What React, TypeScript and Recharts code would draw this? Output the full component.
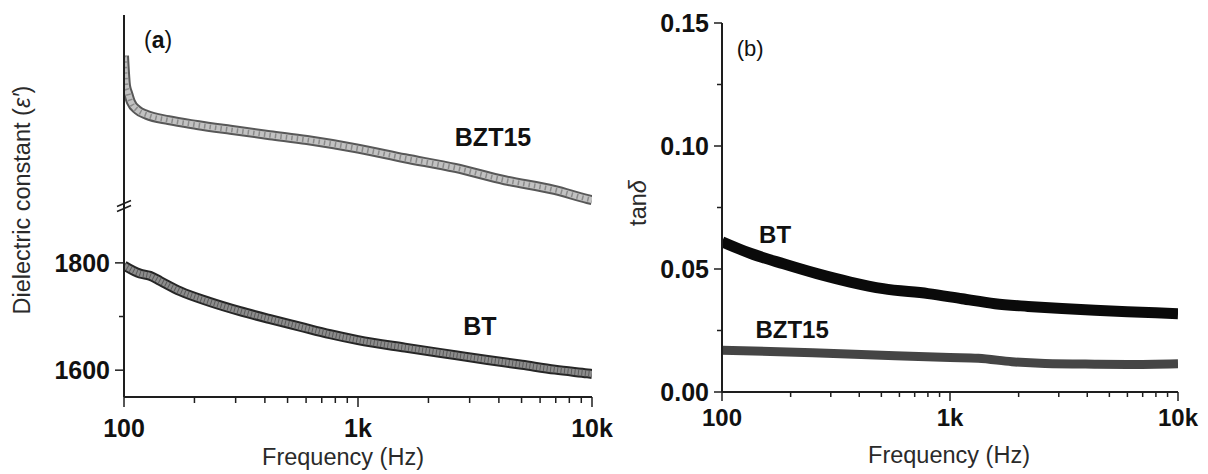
import React from 'react';
import { ComposedChart, Line, XAxis, YAxis, ReferenceDot, Label } from 'recharts';

const FONT = '"Liberation Sans", Arial, Helvetica, sans-serif';

// ---------- shared frequency axis ----------
const freqTicks = [100, 200, 300, 400, 500, 600, 700, 800, 900, 1000, 2000, 3000, 4000, 5000, 6000, 7000, 8000, 9000, 10000];
const freqMajor = [100, 1000, 10000];
const freqLabels = ['100', '1k', '10k'];

// ---------- panel (a): dielectric constant ----------
const epsTicks = [1600, 1700, 1800];
const epsLabeled = [1600, 1800];

const btFreqA = [100, 117, 129, 143, 174, 233, 313, 421, 565, 760, 1000, 1586, 2600, 3580, 5020, 6950, 9570, 10000];
const btEpsA = [1795, 1780, 1776, 1766, 1747, 1727, 1710, 1695, 1681, 1667, 1656, 1642, 1628, 1619, 1610, 1601, 1594, 1593];

// BZT15 lies on the upper (broken) segment of the axis
const bztFreqA = [100, 102, 104, 107, 114, 125, 155, 205, 285, 420, 605, 1000, 1585, 2600, 4240, 6900, 9570, 10000];
const bztEpsA = [2986, 2930, 2917, 2900, 2885, 2876, 2866, 2857, 2848, 2838, 2829, 2813, 2795, 2777, 2754, 2736, 2719, 2717];

// ---------- panel (b): tan delta ----------
const tanTicks = [0, 0.025, 0.05, 0.075, 0.1, 0.125, 0.15];
const tanLabeled = [0, 0.05, 0.1, 0.15];
const tanLabels = ['0.00', '0.05', '0.10', '0.15'];

const btFreqB = [100, 133, 186, 261, 365, 509, 802, 1130, 1576, 2198, 3098, 4320, 6000, 8000, 10000];
const btTanB = [0.0611, 0.0564, 0.0521, 0.0481, 0.0447, 0.042, 0.04, 0.0379, 0.0359, 0.0348, 0.0339, 0.0332, 0.0326, 0.0322, 0.0318];

const bztFreqB = [100, 250, 575, 1000, 1330, 1870, 2610, 4320, 6000, 10000];
const bztTanB = [0.017, 0.016, 0.0147, 0.014, 0.0137, 0.0123, 0.0116, 0.0113, 0.0112, 0.0115];

const rows = (fs: number[], vs: number[]) => fs.map((f, i) => ({ f, v: vs[i] }));
const btRowsA = rows(btFreqA, btEpsA);
const bztRowsA = rows(bztFreqA, bztEpsA);
const btRowsB = rows(btFreqB, btTanB);
const bztRowsB = rows(bztFreqB, bztTanB);

const AXIS = '#1e1e1e';

const makeXTick = (majorLen: number, minorLen: number, fontSize: number, dy: number) => (props: any) => {
  const { x, y, payload } = props;
  const idx = freqMajor.indexOf(payload.value);
  const major = idx >= 0;
  return (
    <g>
      <line x1={x} x2={x} y1={y} y2={y + (major ? majorLen : minorLen)} stroke={AXIS} strokeWidth={1.5} />
      {major && (
        <text x={x} y={y + dy} textAnchor="middle" dominantBaseline="central" fontSize={fontSize} fontWeight="bold" fontFamily={FONT} fill="#111">
          {freqLabels[idx]}
        </text>
      )}
    </g>
  );
};

const makeYTick = (labeled: number[], fmt: (v: number) => string, majorLen: number, minorLen: number, fontSize: number, gap: number) => (props: any) => {
  const { x, y, payload } = props;
  const major = labeled.indexOf(payload.value) >= 0;
  return (
    <g>
      <line x1={x - (major ? majorLen : minorLen)} x2={x} y1={y} y2={y} stroke={AXIS} strokeWidth={1.5} />
      {major && (
        <text x={x - majorLen - gap} y={y} textAnchor="end" dominantBaseline="central" fontSize={fontSize} fontWeight="bold" fontFamily={FONT} fill="#111">
          {fmt(payload.value)}
        </text>
      )}
    </g>
  );
};

const textShape = (label: string, size: number, weight: string) => (p: any) => (
  <text x={p.cx} y={p.cy} textAnchor="middle" dominantBaseline="central" fontSize={size} fontWeight={weight} fontFamily={FONT} fill="#111">
    {label}
  </text>
);

const panelLabel = (letter: string, size: number, weight: string) => (p: any) => (
  <text x={p.cx} y={p.cy} textAnchor="middle" dominantBaseline="central" fontSize={size} fontFamily={FONT} fill="#111">
    (<tspan fontWeight={weight}>{letter}</tspan>)
  </text>
);

const breakShape = (p: any) => (
  <g stroke={AXIS} strokeWidth={1.6}>
    <line x1={p.cx - 7} y1={p.cy + 1} x2={p.cx + 7} y2={p.cy - 5} />
    <line x1={p.cx - 7} y1={p.cy + 6} x2={p.cx + 7} y2={p.cy} />
  </g>
);

const titleStyle = { fontSize: 23.5, fontFamily: FONT, fill: '#2a2a2a' } as const;

function PanelA() {
  return (
    <ComposedChart width={620} height={474} margin={{ top: 15, right: 28, bottom: 0, left: 64 }}>
      <XAxis xAxisId="x" dataKey="f" type="number" scale="log" domain={[100, 10000]} ticks={freqTicks} interval={0}
        height={77} tickSize={0} tickMargin={0} tickLine={false} axisLine={{ stroke: AXIS, strokeWidth: 2 }}
        tick={makeXTick(10, 6, 25, 31)} allowDataOverflow>
        <Label content={() => <text x={343} y={457} textAnchor="middle" dominantBaseline="central" {...titleStyle}>Frequency (Hz)</text>} />
      </XAxis>
      <XAxis xAxisId="top" orientation="top" type="number" scale="log" domain={[100, 10000]} height={0} tick={false} tickLine={false}
        axisLine={{ stroke: AXIS, strokeWidth: 2 }} />
      <YAxis yAxisId="bt" type="number" domain={[1550, 2262]} ticks={epsTicks} interval={0} width={60} tickSize={0} tickMargin={0}
        tickLine={false} axisLine={{ stroke: AXIS, strokeWidth: 2 }} allowDataOverflow
        tick={makeYTick(epsLabeled, (v) => String(v), 9, 5, 25, 5)}>
        <Label content={() => (
          <text x={22} y={200} transform="rotate(-90 22 200)" textAnchor="middle" dominantBaseline="central" {...titleStyle}>
            Dielectric constant (<tspan fontStyle="italic">ε′</tspan>)
          </text>
        )} />
      </YAxis>
      <YAxis yAxisId="bzt" type="number" domain={[2350, 3062]} hide allowDataOverflow />
      <YAxis yAxisId="frame" orientation="right" type="number" domain={[0, 1]} width={0} tick={false} tickLine={false}
        axisLine={{ stroke: AXIS, strokeWidth: 2 }} />

      {/* BZT15: open-circle markers, drawn as a band with a dashed texture */}
      <Line xAxisId="x" yAxisId="bzt" data={bztRowsA} dataKey="v" type="monotone" stroke="#585858" strokeWidth={10} dot={false} isAnimationActive={false} />
      <Line xAxisId="x" yAxisId="bzt" data={bztRowsA} dataKey="v" type="monotone" stroke="#c2c2c2" strokeWidth={6} dot={false} isAnimationActive={false} />
      <Line xAxisId="x" yAxisId="bzt" data={bztRowsA} dataKey="v" type="monotone" stroke="#8a8a8a" strokeWidth={5} strokeDasharray="1.5 4" dot={false} isAnimationActive={false} />
      {/* BT: square markers */}
      <Line xAxisId="x" yAxisId="bt" data={btRowsA} dataKey="v" type="monotone" stroke="#262626" strokeWidth={10} dot={false} isAnimationActive={false} />
      <Line xAxisId="x" yAxisId="bt" data={btRowsA} dataKey="v" type="monotone" stroke="#8c8c8c" strokeWidth={6} dot={false} isAnimationActive={false} />
      <Line xAxisId="x" yAxisId="bt" data={btRowsA} dataKey="v" type="monotone" stroke="#5a5a5a" strokeWidth={6} strokeDasharray="1 2.5" dot={false} isAnimationActive={false} />

      <ReferenceDot xAxisId="x" yAxisId="bt" x={100} y={1907} ifOverflow="visible" shape={breakShape} />
      <ReferenceDot xAxisId="x" yAxisId="bt" x={140} y={2215} ifOverflow="visible" shape={panelLabel('a', 23, 'bold')} />
      <ReferenceDot xAxisId="x" yAxisId="bt" x={3776} y={2034} ifOverflow="visible" shape={textShape('BZT15', 25, 'bold')} />
      <ReferenceDot xAxisId="x" yAxisId="bt" x={3321} y={1682} ifOverflow="visible" shape={textShape('BT', 25, 'bold')} />
    </ComposedChart>
  );
}

function PanelB() {
  return (
    <ComposedChart width={608} height={474} margin={{ top: 23, right: 30, bottom: 0, left: 62 }}>
      <XAxis xAxisId="x" dataKey="f" type="number" scale="log" domain={[100, 10000]} ticks={freqTicks} interval={0}
        height={82} tickSize={0} tickMargin={0} tickLine={false} axisLine={{ stroke: AXIS, strokeWidth: 2 }}
        tick={makeXTick(9, 5, 24, 25)} allowDataOverflow>
        <Label content={() => <text x={349} y={455} textAnchor="middle" dominantBaseline="central" {...titleStyle}>Frequency (Hz)</text>} />
      </XAxis>
      <XAxis xAxisId="top" orientation="top" type="number" scale="log" domain={[100, 10000]} height={0} tick={false} tickLine={false}
        axisLine={{ stroke: AXIS, strokeWidth: 2 }} />
      <YAxis yAxisId="t" type="number" domain={[0, 0.15]} ticks={tanTicks} interval={0} width={60} tickSize={0} tickMargin={0}
        tickLine={false} axisLine={{ stroke: AXIS, strokeWidth: 2 }} allowDataOverflow
        tick={makeYTick(tanLabeled, (v) => tanLabels[tanLabeled.indexOf(v)], 8, 5, 25, 5)}>
        <Label content={() => (
          <text x={38} y={203} transform="rotate(-90 38 203)" textAnchor="middle" dominantBaseline="central" {...titleStyle}>
            tan<tspan fontStyle="italic">δ</tspan>
          </text>
        )} />
      </YAxis>
      <YAxis yAxisId="frame" orientation="right" type="number" domain={[0, 1]} width={0} tick={false} tickLine={false}
        axisLine={{ stroke: AXIS, strokeWidth: 2 }} />

      <Line xAxisId="x" yAxisId="t" data={bztRowsB} dataKey="v" type="monotone" stroke="#454545" strokeWidth={9} dot={false} isAnimationActive={false} />
      <Line xAxisId="x" yAxisId="t" data={btRowsB} dataKey="v" type="monotone" stroke="#0a0a0a" strokeWidth={11} dot={false} isAnimationActive={false} />

      <ReferenceDot xAxisId="x" yAxisId="t" x={133} y={0.1398} ifOverflow="visible" shape={panelLabel('b', 22, 'normal')} />
      <ReferenceDot xAxisId="x" yAxisId="t" x={171} y={0.0642} ifOverflow="visible" shape={textShape('BT', 24, 'bold')} />
      <ReferenceDot xAxisId="x" yAxisId="t" x={203} y={0.0256} ifOverflow="visible" shape={textShape('BZT15', 24, 'bold')} />
    </ComposedChart>
  );
}

export default function App() {
  return (
    <div style={{ position: 'absolute', left: 0, top: 0, width: 1208, height: 474, background: '#fff', fontFamily: FONT }}>
      <div style={{ position: 'absolute', left: 0, top: 0 }}>
        <PanelA />
      </div>
      <div style={{ position: 'absolute', left: 600, top: 0 }}>
        <PanelB />
      </div>
    </div>
  );
}
